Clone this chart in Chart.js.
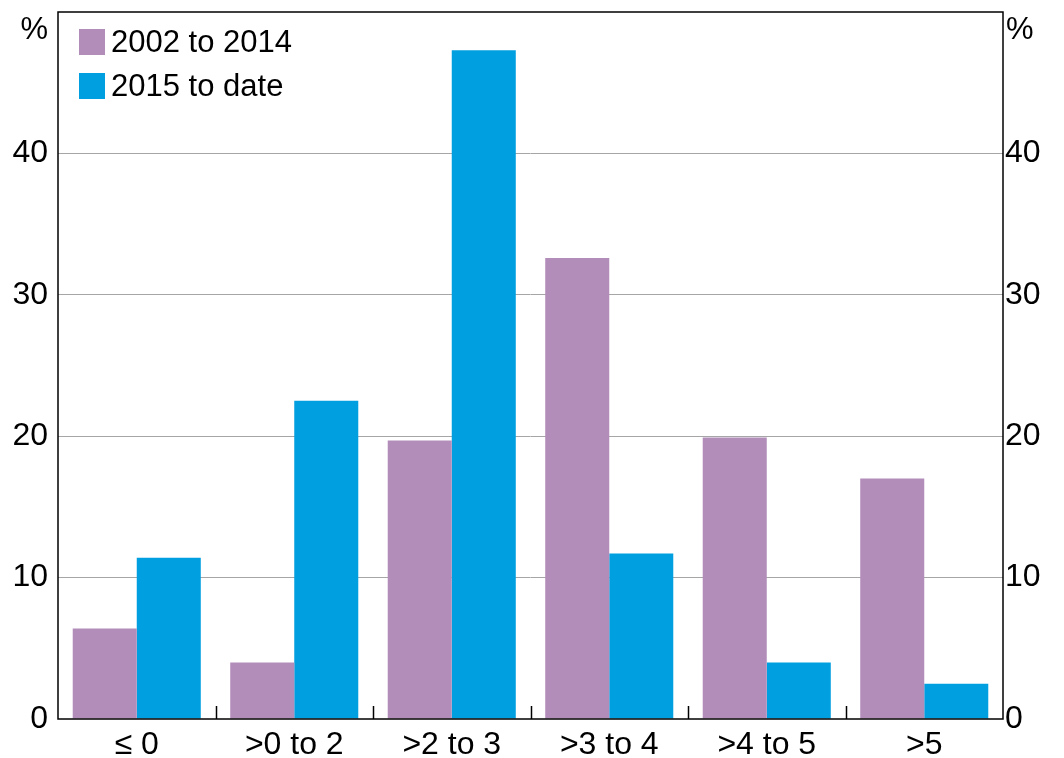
<!DOCTYPE html>
<html>
<head>
<meta charset="utf-8">
<script src="https://cdn.jsdelivr.net/npm/chart.js@4"></script>
<style>
  html, body { margin: 0; padding: 0; background: #fff; }
  #wrap { width: 1064px; height: 758px; }
</style>
</head>
<body>
<div id="wrap"><canvas id="c" width="1064" height="758"></canvas></div>
<script>
const categories = ['\u2264 0', '>0 to 2', '>2 to 3', '>3 to 4', '>4 to 5', '>5'];
const series2002to2014 = [6.4, 4.0, 19.7, 32.6, 19.9, 17.0];
const series2015toDate = [11.4, 22.5, 47.3, 11.7, 4.0, 2.5];
const seriesLabels = ['2002 to 2014', '2015 to date'];
const seriesColors = ['#B28DBA', '#009FDF'];
const yTicks = [0, 10, 20, 30, 40];
const yMax = 50;
const unitLabel = '%';

const FONT = "'Liberation Sans', Arial, sans-serif";

const framePlugin = {
  id: 'frame',
  afterDraw(chart) {
    const ctx = chart.ctx;
    const a = chart.chartArea;
    const xs = chart.scales.x;
    ctx.save();
    ctx.strokeStyle = '#000';
    ctx.lineWidth = 1.5;
    const n = chart.data.labels.length;
    for (let i = 0; i < n - 1; i++) {
      const px = (xs.getPixelForValue(i) + xs.getPixelForValue(i + 1)) / 2;
      ctx.beginPath();
      ctx.moveTo(Math.round(px) + 0.5, a.bottom);
      ctx.lineTo(Math.round(px) + 0.5, a.bottom - 13);
      ctx.stroke();
    }
    ctx.lineWidth = 1.5;
    ctx.strokeRect(a.left, a.top, a.right - a.left, a.bottom - a.top);
    ctx.fillStyle = '#000';
    ctx.font = '31px ' + FONT;
    ctx.textBaseline = 'middle';
    ctx.textAlign = 'right';
    ctx.fillText(unitLabel, a.left - 10, a.top + 18);
    ctx.textAlign = 'left';
    ctx.fillText(unitLabel, a.right + 3, a.top + 18);
    const ds = chart.data.datasets;
    ds.forEach((d, i) => {
      const y = a.top + 17 + i * 44;
      ctx.fillStyle = d.backgroundColor;
      ctx.fillRect(a.left + 21, y, 26, 26);
      ctx.fillStyle = '#000';
      ctx.textAlign = 'left';
      ctx.font = '31px ' + FONT;
      ctx.fillText(d.label, a.left + 53, y + 14);
    });
    ctx.restore();
  }
};

function noPad(s) { s.paddingTop = 0; s.paddingBottom = 0; s.paddingLeft = 0; s.paddingRight = 0; }

new Chart(document.getElementById('c'), {
  type: 'bar',
  data: {
    labels: categories,
    datasets: [
      { label: seriesLabels[0], data: series2002to2014, backgroundColor: seriesColors[0], yAxisID: 'y' },
      { label: seriesLabels[1], data: series2015toDate, backgroundColor: seriesColors[1], yAxisID: 'y' }
    ]
  },
  options: {
    responsive: false,
    animation: false,
    devicePixelRatio: 1,
    layout: { padding: { top: 12, left: 0, right: 0, bottom: 0 } },
    datasets: { bar: { categoryPercentage: 0.813, barPercentage: 1.0, borderWidth: 0 } },
    plugins: { legend: { display: false }, tooltip: { enabled: false }, title: { display: false } },
    scales: {
      x: {
        offset: true,
        grid: { display: false, drawTicks: false },
        border: { display: false },
        ticks: { color: '#000', font: { family: FONT, size: 32 }, padding: 7, maxRotation: 0 },
        afterFit(s) { s.height = 39; noPad(s); }
      },
      y: {
        position: 'left',
        min: 0, max: yMax,
        afterBuildTicks(s) { s.ticks = yTicks.map(v => ({ value: v })); },
        grid: {
          color: (c) => (c.tick && c.tick.value === 0) ? 'rgba(0,0,0,0)' : '#A6A6A6',
          lineWidth: 1, drawTicks: false
        },
        border: { display: false },
        ticks: { color: '#000', font: { family: FONT, size: 32 }, padding: 10 },
        afterFit(s) { s.width = 58; noPad(s); }
      },
      y2: {
        position: 'right',
        min: 0, max: yMax,
        afterBuildTicks(s) { s.ticks = yTicks.map(v => ({ value: v })); },
        grid: { display: false, drawTicks: false },
        border: { display: false },
        ticks: { color: '#000', font: { family: FONT, size: 32 }, padding: 2 },
        afterFit(s) { s.width = 61; noPad(s); }
      }
    }
  },
  plugins: [framePlugin]
});
</script>
</body>
</html>
